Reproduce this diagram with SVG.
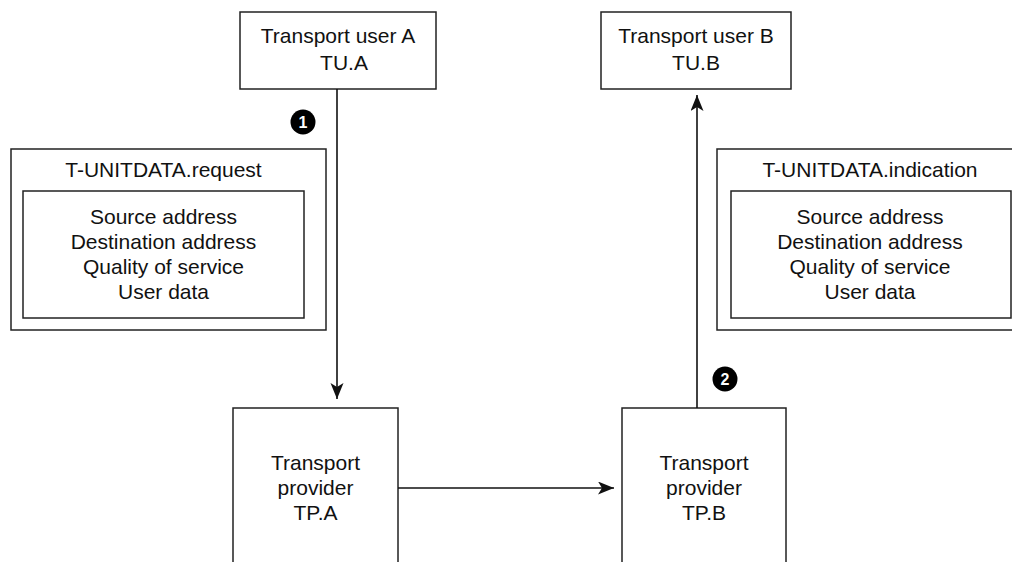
<svg xmlns="http://www.w3.org/2000/svg" width="1012" height="562" viewBox="0 0 1012 562">
<style>
.box{fill:#fff;stroke:#222;stroke-width:1.5}
.t{font-family:"Liberation Sans",Arial,sans-serif;font-size:21px;fill:#111;text-anchor:middle}
.conn{stroke:#111;stroke-width:1.6;fill:none}
.badge{fill:#000}
.bt{font-family:"Liberation Sans",Arial,sans-serif;font-size:16px;font-weight:bold;fill:#fff;text-anchor:middle}
</style>
<defs>
<marker id="ah" markerUnits="userSpaceOnUse" markerWidth="18" markerHeight="14" refX="16" refY="6.5" orient="auto">
<path d="M0,0 L16,6.5 L0,13 L4,6.5 Z" fill="#111"/>
</marker>
</defs>
<rect width="1012" height="562" fill="#fff"/>
<g id="tu-a">
<rect class="box" x="240" y="12" width="196" height="77"/>
<text class="t" x="338" y="43">Transport user A</text>
<text class="t" x="344" y="70">TU.A</text>
</g>
<g id="tu-b">
<rect class="box" x="601" y="12" width="190" height="77"/>
<text class="t" x="696" y="43">Transport user B</text>
<text class="t" x="696" y="70">TU.B</text>
</g>
<g id="req">
<rect class="box" x="11" y="149" width="315" height="181"/>
<text class="t" x="163.5" y="177">T-UNITDATA.request</text>
<rect class="box" x="23" y="191" width="281" height="127"/>
<text class="t" x="163.5" y="224">Source address</text>
<text class="t" x="163.5" y="249">Destination address</text>
<text class="t" x="163.5" y="274">Quality of service</text>
<text class="t" x="163.5" y="299">User data</text>
</g>
<g id="ind">
<rect class="box" x="717" y="149" width="320" height="181"/>
<text class="t" x="870" y="177">T-UNITDATA.indication</text>
<rect class="box" x="731" y="191" width="280" height="127"/>
<text class="t" x="870" y="224">Source address</text>
<text class="t" x="870" y="249">Destination address</text>
<text class="t" x="870" y="274">Quality of service</text>
<text class="t" x="870" y="299">User data</text>
</g>
<g id="tp-a">
<rect class="box" x="233" y="408" width="165" height="180"/>
<text class="t" x="315.5" y="470">Transport</text>
<text class="t" x="315.5" y="495">provider</text>
<text class="t" x="315.5" y="520">TP.A</text>
</g>
<g id="tp-b">
<rect class="box" x="622" y="408" width="164" height="180"/>
<text class="t" x="704" y="470">Transport</text>
<text class="t" x="704" y="495">provider</text>
<text class="t" x="704" y="520">TP.B</text>
</g>
<g id="connectors">
<line class="conn" x1="337" y1="89" x2="337" y2="399" marker-end="url(#ah)"/>
<line class="conn" x1="398" y1="488" x2="614" y2="488" marker-end="url(#ah)"/>
<line class="conn" x1="697" y1="408" x2="697" y2="95" marker-end="url(#ah)"/>
</g>
<g id="badge-1">
<circle class="badge" cx="303" cy="122" r="12.5"/>
<text class="bt" x="303" y="128">1</text>
</g>
<g id="badge-2">
<circle class="badge" cx="725" cy="379" r="12.5"/>
<text class="bt" x="725" y="385">2</text>
</g>
</svg>
